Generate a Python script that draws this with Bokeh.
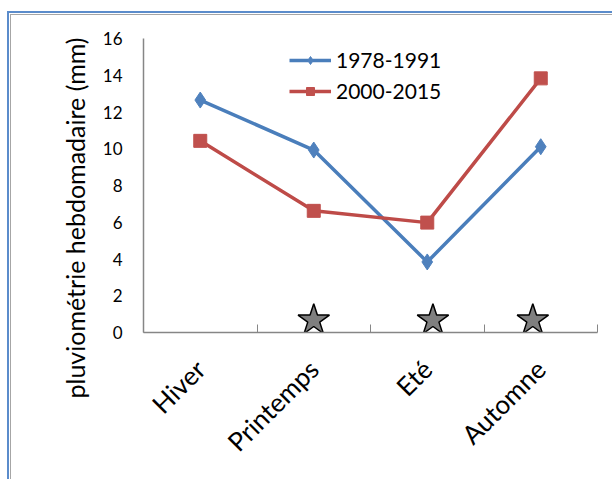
import math

from bokeh.embed import file_html
from bokeh.models import FixedTicker, InlineStyleSheet, Legend, LegendItem, Range1d, Title
from bokeh.plotting import figure
from bokeh.resources import INLINE

# Weekly rainfall by season, two reference periods
seasons = ["Hiver", "Printemps", "Eté", "Automne"]
season_pos = [0.5, 1.5, 2.5, 3.5]
rain_1978_1991 = [12.65, 9.93, 3.84, 10.11]
rain_2000_2015 = [10.43, 6.62, 5.98, 13.83]

# Significance markers drawn along the base of the chart
star_pos = [1.5, 2.55, 3.43]
star_level = [0.67, 0.67, 0.67]

y_ticks = [0, 2, 4, 6, 8, 10, 12, 14, 16]
category_edges = [0, 1, 2, 3, 4]

BLUE_LINE = "#4A7EBB"
BLUE_MARK = "#4F81BD"
RED_LINE = "#BE4B48"
RED_MARK = "#C0504D"
AXIS_GREY = "#868686"
FONT = "Lato"

# Chart frame: blue outer rule and grey inner rule along the top and left edges
frame_css = InlineStyleSheet(css="""
:host::before, :host::after {
  content: "";
  position: absolute;
  pointer-events: none;
  z-index: 100;
  width: 640px;
  height: 500px;
}
:host::before {
  left: 7px;
  top: 11px;
  border-left: 2px solid #5B8CCB;
  border-top: 2px solid #5B8CCB;
}
:host::after {
  left: 10px;
  top: 14px;
  border-left: 1.5px solid #A6A6A6;
  border-top: 1.5px solid #A6A6A6;
}
""")

p = figure(
    width=612,
    height=479,
    output_backend="svg",
    toolbar_location=None,
    x_range=Range1d(0, 4),
    y_range=Range1d(0, 16),
    min_border_left=143,
    min_border_right=15,
    min_border_top=38,
    min_border_bottom=147,
    stylesheets=[frame_css],
)
p.outline_line_color = None
p.xgrid.visible = False
p.ygrid.visible = False
p.background_fill_color = "white"
p.border_fill_color = "white"

# Category axis: labels at the centres, tick marks on the category boundaries
xa = p.xaxis[0]
xa.ticker = FixedTicker(ticks=season_pos, minor_ticks=category_edges)
xa.major_label_overrides = {pos: name for pos, name in zip(season_pos, seasons)}
xa.major_tick_in = 0
xa.major_tick_out = 0
xa.minor_tick_in = 8
xa.minor_tick_out = 0
xa.minor_tick_line_color = AXIS_GREY
xa.axis_line_color = AXIS_GREY
xa.axis_line_width = 1.5
xa.major_label_orientation = math.pi / 4
xa.major_label_text_font = FONT
xa.major_label_text_font_size = "26px"
xa.major_label_text_color = "black"
xa.major_label_standoff = 32

ya = p.yaxis[0]
ya.ticker = FixedTicker(ticks=y_ticks)
ya.major_tick_in = 0
ya.major_tick_out = 0
ya.minor_tick_line_color = None
ya.axis_line_color = AXIS_GREY
ya.axis_line_width = 1.5
ya.major_label_text_font = FONT
ya.major_label_text_font_size = "17px"
ya.major_label_text_color = "black"
ya.major_label_standoff = 21

# Series lines with their markers
l1 = p.line(season_pos, rain_1978_1991, line_color=BLUE_LINE, line_width=3.5)
s1 = p.scatter(season_pos, rain_1978_1991, marker="diamond", size=16,
               fill_color=BLUE_MARK, line_color=BLUE_MARK)
l2 = p.line(season_pos, rain_2000_2015, line_color=RED_LINE, line_width=3.5)
s2 = p.scatter(season_pos, rain_2000_2015, marker="square", size=13,
               fill_color=RED_MARK, line_color=RED_MARK)

p.scatter(star_pos, star_level, marker="star", size=33,
          fill_color="#7F7F7F", line_color="black", line_width=1.5)

legend = Legend(
    items=[
        LegendItem(label="1978-1991", renderers=[l1, s1]),
        LegendItem(label="2000-2015", renderers=[l2, s2]),
    ],
    location=(146, 229),
    orientation="vertical",
    padding=0,
    margin=0,
    spacing=6,
    glyph_width=42,
    glyph_height=20,
    label_height=20,
    label_standoff=5,
    label_text_font=FONT,
    label_text_font_size="21px",
    label_text_color="black",
    border_line_alpha=0,
    background_fill_alpha=0,
)
p.add_layout(legend)

# Vertical axis title, set in its own side panel, starting below the frame
p.add_layout(Title(
    text="pluviométrie hebdomadaire (mm)",
    align="left",
    offset=-66,
    standoff=19,
    text_font=FONT,
    text_font_size="25px",
    text_font_style="normal",
    text_color="black",
), "left")

open("out.html", "w").write(file_html(p, INLINE))
